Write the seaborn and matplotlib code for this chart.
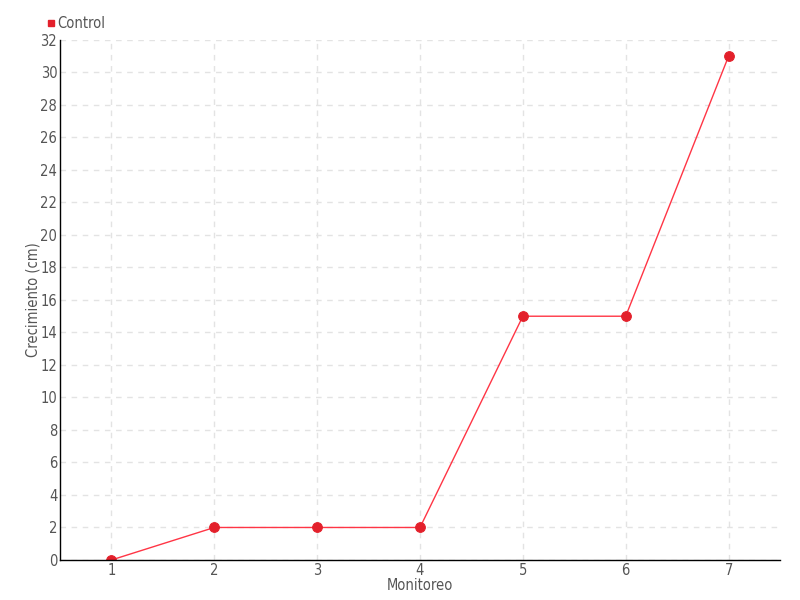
import pandas as pd
import seaborn as sns
import matplotlib.pyplot as plt
from matplotlib.lines import Line2D

monitoreo = [1, 2, 3, 4, 5, 6, 7]
control = [0, 2, 2, 2, 15, 15, 31]
y_ticks = list(range(0, 33, 2))

df = pd.DataFrame({"Monitoreo": monitoreo, "Control": control})

sns.set_style("white")
plt.rcParams['font.family'] = ['DejaVu Sans', 'Liberation Sans']
plt.rcParams['font.stretch'] = 'condensed'
text_color = '#555555'

fig = plt.figure(figsize=(8, 6), dpi=100)
ax = fig.add_axes([0.075, 0.0667, 0.9, 0.8667])

sns.lineplot(data=df, x="Monitoreo", y="Control", ax=ax, color='#ff3545',
             linewidth=1, marker='o', markersize=7, markerfacecolor='#e3202b',
             markeredgecolor='#e3202b', legend=False)

ax.set_xlim(0.5, 7.5)
ax.set_ylim(0, 32)
ax.set_xticks(monitoreo)
ax.set_yticks(y_ticks)
ax.grid(True, linestyle=(0, (4, 4)), color='#e3e3e3', linewidth=1)
ax.set_axisbelow(True)
for s in ['top', 'right']:
    ax.spines[s].set_visible(False)
for s in ['left', 'bottom']:
    ax.spines[s].set_color('black')
    ax.spines[s].set_linewidth(1)
ax.tick_params(axis='both', colors='#333333', labelcolor=text_color, labelsize=10.5,
               length=4, width=1, direction='inout', pad=0)
ax.set_xlabel("Monitoreo", color=text_color, fontsize=10.5, labelpad=0.5)
ax.set_ylabel("Crecimiento (cm)", color=text_color, fontsize=10.5, labelpad=0)

handle = Line2D([], [], linestyle='none', marker='s', markersize=4.5,
                color='#e3202b')
fig.legend([handle], ["Control"], loc='upper left', bbox_to_anchor=(0.04, 0.995),
           frameon=False, fontsize=10.5, handletextpad=0.05, handlelength=0.8,
           labelcolor=text_color)

fig.savefig("out.png", dpi=100)
